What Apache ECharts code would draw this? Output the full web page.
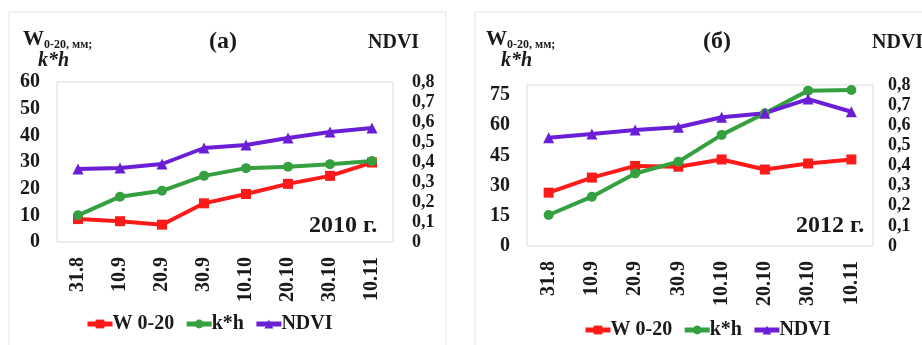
<!DOCTYPE html>
<html><head><meta charset="utf-8">
<script src="https://cdn.jsdelivr.net/npm/echarts@6/dist/echarts.min.js"></script>
<style>html,body{margin:0;padding:0;background:#fff}#c{width:922px;height:345px}</style>
</head><body><div id="c"></div>
<script>
const categories = ['31.8','10.9','20.9','30.9','10.10','20.10','30.10','10.11'];
const w2010 = [8.6, 7.8, 6.5, 14.5, 18, 21.8, 24.8, 29.8];
const kh2010 = [10, 17, 19.2, 24.8, 27.7, 28.2, 29.2, 30.4];
const ndvi2010 = [0.365, 0.37, 0.39, 0.47, 0.485, 0.52, 0.55, 0.57];
const w2012 = [26.5, 34, 39.8, 39.4, 43, 38, 41, 43];
const kh2012 = [15.4, 24.5, 36, 41.9, 55.2, 66, 77.2, 77.5];
const ndvi2012 = [0.538, 0.556, 0.576, 0.59, 0.64, 0.66, 0.73, 0.667];
const seriesNames = ['W 0-20', 'k*h', 'NDVI'];
const panelTitles = ['(a)', '(б)'];
const yearLabels = ['2010 г.', '2012 г.'];

const FONT = '"Liberation Serif", "Times New Roman", serif';
const RED = '#ff1a1a', GREEN = '#35a03f', PURPLE = '#6a1fd6';
const txt = {fontFamily: FONT, fontWeight: 'bold', color: '#1a1a1a'};

const chart = echarts.init(document.getElementById('c'), null, {renderer: 'canvas'});
const fmtR = v => v === 0 ? '0' : v.toFixed(1).replace('.', ',');

function yLeft(gi, max, interval) {
  return {type: 'value', gridIndex: gi, min: 0, max: max, interval: interval,
    axisLine: {show: false}, axisTick: {show: false}, splitLine: {show: false},
    axisLabel: Object.assign({fontSize: 20, margin: 17, showMaxLabel: max % interval === 0}, txt)};
}
function yRight(gi, margin) {
  return {type: 'value', gridIndex: gi, position: 'right', min: 0, max: 0.8, interval: 0.1,
    axisLine: {show: false}, axisTick: {show: false}, splitLine: {show: false},
    axisLabel: Object.assign({fontSize: 18, margin: margin, align: 'left', formatter: fmtR, lineHeight: 18}, txt)};
}
function xAx(gi) {
  return {type: 'category', gridIndex: gi, data: categories, boundaryGap: true,
    axisLine: {show: false}, axisTick: {show: false},
    axisLabel: Object.assign({fontSize: 20, rotate: 90, margin: 15, interval: 0}, txt)};
}
function mk(name, data, xi, yi, color, symbol, size) {
  return {name: name, type: 'line', data: data, xAxisIndex: xi, yAxisIndex: yi,
    symbol: symbol, symbolSize: size, showSymbol: true,
    lineStyle: {color: color, width: 4}, itemStyle: {color: color}, z: 3};
}
function titleBlock(left, top) {
  return {left: left, top: top, text: '{w|W}{s|0-20, мм;}\n   {k|k*h}',
    textStyle: {rich: {
      w: {fontFamily: FONT, fontWeight: 'bold', fontSize: 21, color: '#1a1a1a', lineHeight: 20},
      s: {fontFamily: FONT, fontWeight: 'bold', fontSize: 12, color: '#1a1a1a', padding: [10, 0, 0, 0]},
      k: {fontFamily: FONT, fontWeight: 'bold', fontStyle: 'italic', fontSize: 20, color: '#1a1a1a', lineHeight: 20}
    }}};
}
function legend(left, top) {
  return {left: left, top: top, padding: 0, data: seriesNames, itemWidth: 25, itemHeight: 11, itemGap: 10,
    lineStyle: {width: 5},
    textStyle: Object.assign({fontSize: 20, padding: [0, 0, 0, -5]}, txt)};
}

chart.setOption({
  animation: false,
  graphic: [
    {type: 'rect', shape: {x: 9, y: 12, width: 437, height: 340}, style: {fill: 'none', stroke: '#e4e4e4', lineWidth: 1}, silent: true},
    {type: 'rect', shape: {x: 475, y: 12, width: 460, height: 340}, style: {fill: 'none', stroke: '#e4e4e4', lineWidth: 1}, silent: true}
  ],
  title: [
    titleBlock(18, 24),
    {left: 204, top: 25, text: panelTitles[0], textStyle: Object.assign({fontSize: 24}, txt)},
    {left: 363, top: 28, text: 'NDVI', textStyle: Object.assign({fontSize: 20}, txt)},
    {left: 304, top: 209, text: yearLabels[0], textStyle: Object.assign({fontSize: 24}, txt)},
    titleBlock(481, 24),
    {left: 698, top: 25, text: panelTitles[1], textStyle: Object.assign({fontSize: 24}, txt)},
    {left: 867, top: 28, text: 'NDVI', textStyle: Object.assign({fontSize: 20}, txt)},
    {left: 791, top: 209, text: yearLabels[1], textStyle: Object.assign({fontSize: 24}, txt)}
  ],
  legend: [legend(85, 314), legend(583, 320)],
  grid: [
    {left: 57, top: 82, width: 336, height: 160, show: true, borderColor: '#dcdcdc', borderWidth: 1, backgroundColor: 'transparent'},
    {left: 527, top: 85, width: 346, height: 161, show: true, borderColor: '#dcdcdc', borderWidth: 1, backgroundColor: 'transparent'}
  ],
  xAxis: [xAx(0), xAx(1)],
  yAxis: [yLeft(0, 60, 10), yRight(0, 19), yLeft(1, 80, 15), yRight(1, 15)],
  series: [
    mk(seriesNames[0], w2010, 0, 0, RED, 'rect', 10),
    mk(seriesNames[1], kh2010, 0, 0, GREEN, 'circle', 10),
    mk(seriesNames[2], ndvi2010, 0, 1, PURPLE, 'triangle', 11),
    mk(seriesNames[0], w2012, 1, 2, RED, 'rect', 10),
    mk(seriesNames[1], kh2012, 1, 2, GREEN, 'circle', 10),
    mk(seriesNames[2], ndvi2012, 1, 3, PURPLE, 'triangle', 11)
  ]
});
</script></body></html>
